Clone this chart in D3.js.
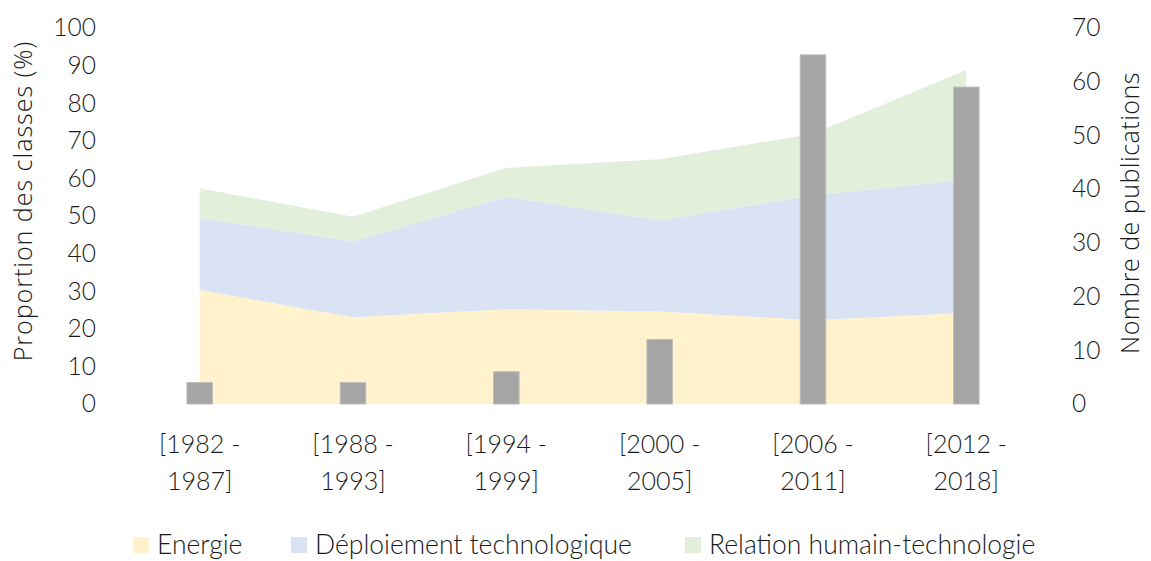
<!DOCTYPE html>
<html><head><meta charset="utf-8">
<script src="https://cdn.jsdelivr.net/npm/d3@7"></script>
<style>body{margin:0;background:#fff;} text{fill:#1a1a1a;}</style>
</head><body>
<svg id="c" width="1151" height="561"></svg>
<script>
const categories = [["[1982 -","1987]"],["[1988 -","1993]"],["[1994 -","1999]"],["[2000 -","2005]"],["[2006 -","2011]"],["[2012 -","2018]"]];
const energie = [30.3, 23.1, 25.2, 24.6, 22.3, 24.3];
const deploiement = [19.2, 20.2, 29.9, 24.3, 33.2, 35.4];
const relation = [7.9, 6.5, 7.7, 16.2, 16.4, 29.1];
const publications = [4, 4, 6, 12, 65, 59];
const leftTicks = [0,10,20,30,40,50,60,70,80,90,100];
const rightTicks = [0,10,20,30,40,50,60,70];
const seriesNames = ["Energie","Déploiement technologique","Relation humain-technologie"];
const colors = ["#FFF2CC","#DAE3F3","#E2EFDA"];

const svg = d3.select("#c");
const tickFont = "Lato, sans-serif";
const x = d3.scaleBand().domain(d3.range(categories.length)).range([123, 1043]).padding(0);
const yL = d3.scaleLinear().domain([0,100]).range([404,28]);
const yR = d3.scaleLinear().domain([0,70]).range([404,28]);

const rows = categories.map((c,i)=>({i, e:energie[i], d:deploiement[i], r:relation[i]}));
const stack = d3.stack().keys(["e","d","r"])(rows);
const area = d3.area().x(d=>x(d.data.i)+x.bandwidth()/2).y0(d=>yL(d[0])).y1(d=>yL(d[1]));
svg.append("g").selectAll("path").data(stack).join("path")
  .attr("d", area).attr("fill",(d,i)=>colors[i]);

svg.append("g").selectAll("rect").data(publications).join("rect")
  .attr("x",(d,i)=>x(i)+x.bandwidth()/2-12.75).attr("width",25.5)
  .attr("y",d=>yR(d)).attr("height",d=>yR(0)-yR(d))
  .attr("fill","#A5A5A5").attr("stroke","#BDBDBD").attr("stroke-width",1);

const axL = svg.append("g").attr("transform","translate(96,0)")
  .call(d3.axisLeft(yL).tickValues(leftTicks).tickSize(0).tickPadding(0));
axL.select(".domain").remove();
axL.selectAll("text").style("font-family",tickFont).style("font-weight",300).style("font-size","24.5px").attr("fill","#1a1a1a");

const axR = svg.append("g").attr("transform","translate(1072,0)")
  .call(d3.axisRight(yR).tickValues(rightTicks).tickSize(0).tickPadding(0));
axR.select(".domain").remove();
axR.selectAll("text").style("font-family",tickFont).style("font-weight",300).style("font-size","24.5px").attr("fill","#1a1a1a");

const xl = svg.append("g").selectAll("text").data(categories).join("text")
  .attr("x",(d,i)=>x(i)+x.bandwidth()/2).attr("text-anchor","middle")
  .style("font-family",tickFont).style("font-weight",300).style("font-size","25px");
xl.append("tspan").attr("x",(d,i)=>x(i)+x.bandwidth()/2).attr("y",453).text(d=>d[0]);
xl.append("tspan").attr("x",(d,i)=>x(i)+x.bandwidth()/2).attr("y",490).text(d=>d[1]);

svg.append("text").attr("transform","translate(32,201) rotate(-90)").attr("text-anchor","middle")
  .style("font-family","'Open Sans', sans-serif").style("font-weight",300).style("font-size","25px").style("letter-spacing","1px").text("Proportion des classes (%)");
svg.append("text").attr("transform","translate(1139,213) rotate(-90)").attr("text-anchor","middle")
  .style("font-family","'Open Sans', sans-serif").style("font-weight",300).style("font-size","25px").style("letter-spacing","0.5px").text("Nombre de publications");

const legX = [133, 291, 685];
const lg = svg.append("g").selectAll("g").data(seriesNames).join("g")
  .attr("transform",(d,i)=>`translate(${legX[i]},0)`);
lg.append("rect").attr("x",0).attr("y",537).attr("width",16).attr("height",16).attr("fill",(d,i)=>colors[i]);
lg.append("text").attr("x",24).attr("y",554).style("font-family",tickFont).style("font-weight",300).style("font-size","26.5px").text(d=>d);
</script>
</body></html>
